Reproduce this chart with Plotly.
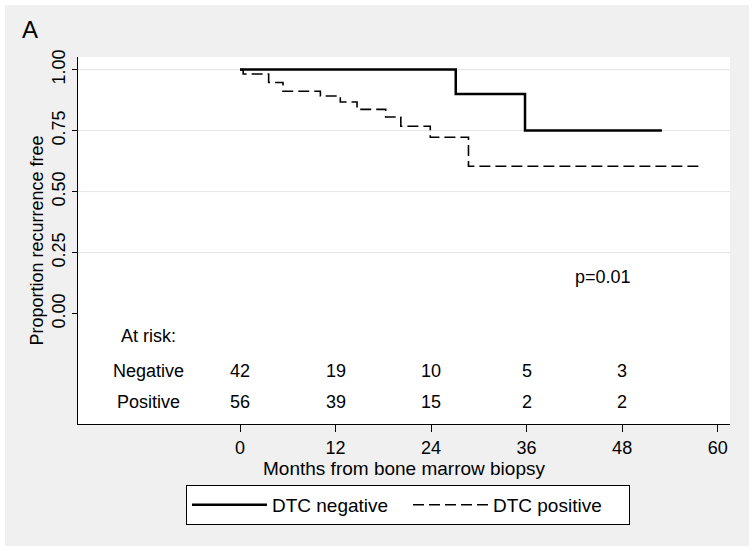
import plotly.graph_objects as go

# Kaplan-Meier step data (months, proportion recurrence free)
neg_months = [0, 27.1, 35.8, 53.0]
neg_surv = [1.0, 0.90, 0.75, 0.75]
pos_months = [0, 0.4, 3.6, 5.4, 10.1, 12.6, 14.7, 18.3, 20.2, 23.9, 28.7, 57.8]
pos_surv = [1.0, 0.982, 0.947, 0.911, 0.892, 0.867, 0.837, 0.806, 0.768, 0.723, 0.604, 0.604]

# Axes
x_ticks = [0, 12, 24, 36, 48, 60]
y_ticks = [0, 0.25, 0.5, 0.75, 1.0]
y_ticktext = ["0.00", "0.25", "0.50", "0.75", "1.00"]

# Numbers at risk
risk_times = [0, 12, 24, 36, 48]
risk_negative = [42, 19, 10, 5, 3]
risk_positive = [56, 39, 15, 2, 2]
risk_labels = ["At risk:", "Negative", "Positive"]
risk_rows_y = [-0.093, -0.2365, -0.362]
risk_label_x = -11.5

p_text = "p=0.01"
panel_label = "A"

FONT = "Liberation Sans, Arial, sans-serif"
GRAY = "#f0f0f0"

fig = go.Figure()
fig.add_trace(go.Scatter(x=neg_months, y=neg_surv, mode="lines", line_shape="hv",
                         name="DTC negative", line=dict(color="black", width=2.5)))
fig.add_trace(go.Scatter(x=pos_months, y=pos_surv, mode="lines", line_shape="hv",
                         name="DTC positive", line=dict(color="black", width=1.6, dash="11px,5px")))

shapes = []
# gray surround (outside plot area), thin white border at page edge
for x0, x1, y0, y1 in [(-0.112, 1.029, 1, 1.1417), (-0.112, 1.029, -0.3324, 0),
                       (-0.112, 0, 0, 1), (1, 1.029, 0, 1)]:
    shapes.append(dict(type="rect", xref="paper", yref="paper", x0=x0, x1=x1, y0=y0, y1=y1,
                       fillcolor=GRAY, line=dict(width=0), layer="below"))
# grid lines
for v in y_ticks:
    if v > 0:
        shapes.append(dict(type="line", xref="paper", yref="y", x0=0, x1=1, y0=v, y1=v,
                           line=dict(color="#e4e4e4", width=1), layer="below"))

annotations = []
ys = risk_rows_y
for lab, yv in zip(risk_labels, ys):
    annotations.append(dict(x=risk_label_x, y=yv, xref="x", yref="y", text=lab,
                            showarrow=False, font=dict(size=18)))
for t, n in zip(risk_times, risk_negative):
    annotations.append(dict(x=t, y=ys[1], xref="x", yref="y", text=str(n), showarrow=False,
                            font=dict(size=18)))
for t, n in zip(risk_times, risk_positive):
    annotations.append(dict(x=t, y=ys[2], xref="x", yref="y", text=str(n), showarrow=False,
                            font=dict(size=18)))
annotations.append(dict(x=45.6, y=0.15, xref="x", yref="y", text=p_text, showarrow=False,
                        font=dict(size=18)))
annotations.append(dict(x=-0.089, y=1.076, xref="paper", yref="paper", text=panel_label,
                        showarrow=False, xanchor="left", yanchor="middle", font=dict(size=24)))

fig.update_layout(
    width=754, height=551,
    margin=dict(l=78, r=24, t=57, b=127, autoexpand=False),
    paper_bgcolor="white", plot_bgcolor="white",
    font=dict(family=FONT, size=18, color="black"),
    shapes=shapes, annotations=annotations,
    showlegend=True,
    legend=dict(orientation="h", x=0.1656, y=-0.166, xanchor="left", yanchor="top",
                bordercolor="black", borderwidth=1, bgcolor="white",
                font=dict(size=19), itemwidth=75, entrywidth=131, traceorder="normal"),
    xaxis=dict(range=[-20.35, 61.55], tickvals=x_ticks, ticks="outside", ticklen=7,
               tickcolor="black", showline=True, linecolor="black", linewidth=1,
               showgrid=False, zeroline=False, tickfont=dict(size=18),
               title=dict(text="Months from bone marrow biopsy", font=dict(size=19), standoff=0)),
    yaxis=dict(range=[-0.4525, 1.0516], tickvals=y_ticks, ticktext=y_ticktext, tickangle=-90,
               ticks="outside", ticklen=5, tickcolor="black", showline=True, linecolor="black",
               linewidth=1, showgrid=False, zeroline=False, tickfont=dict(size=18),
               title=dict(text="Proportion recurrence free", font=dict(size=18), standoff=0)),
)

fig.write_html("out.html", config={"displayModeBar": False},
               post_script="document.body.style.margin='0';")
